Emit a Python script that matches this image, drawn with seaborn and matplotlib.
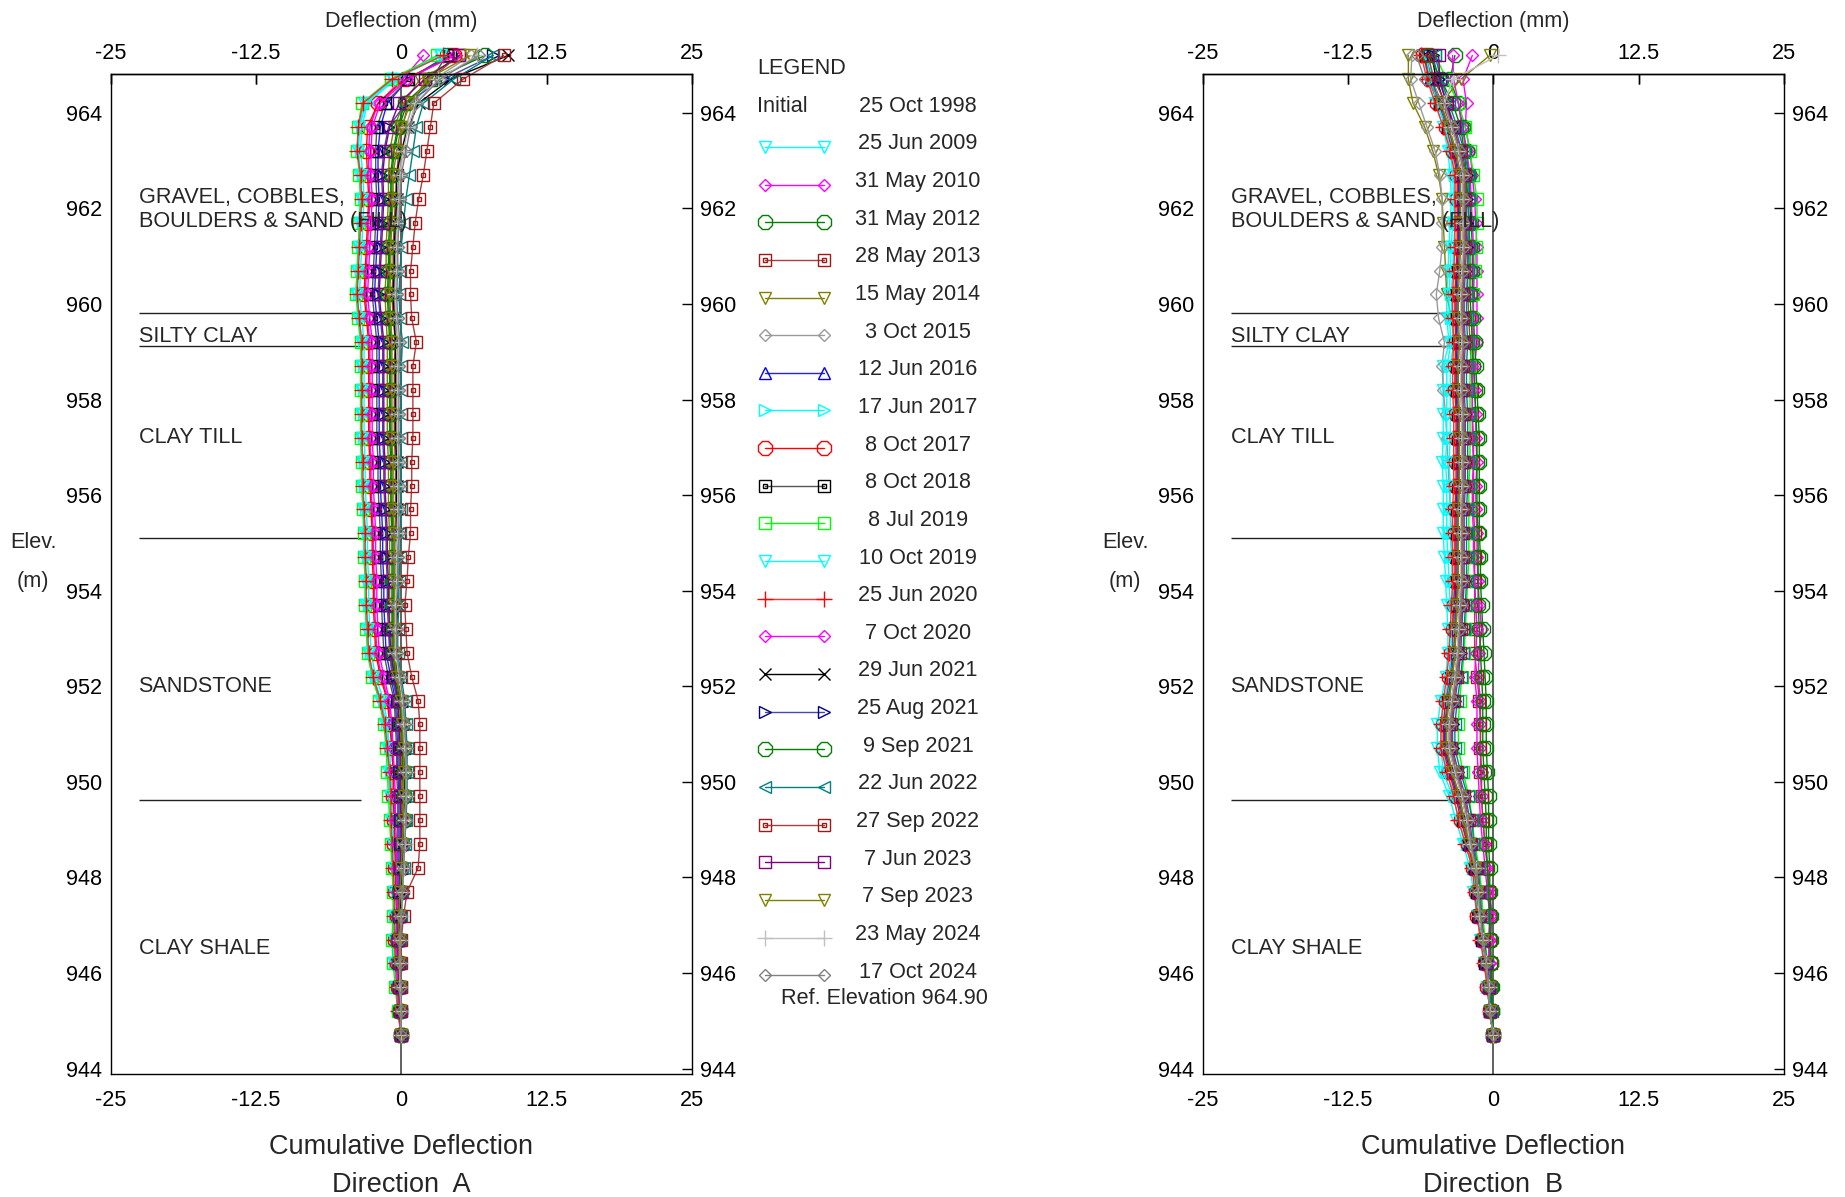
import matplotlib
matplotlib.use('Agg')
import matplotlib.pyplot as plt
import seaborn as sns

# reading elevations (m)
elev = [965.2, 964.7, 964.2, 963.7, 963.2, 962.7, 962.2, 961.7, 961.2, 960.7,
        960.2, 959.7, 959.2, 958.7, 958.2, 957.7, 957.2, 956.7, 956.2, 955.7,
        955.2, 954.7, 954.2, 953.7, 953.2, 952.7, 952.2, 951.7, 951.2, 950.7,
        950.2, 949.7, 949.2, 948.7, 948.2, 947.7, 947.2, 946.7, 946.2, 945.7,
        945.2, 944.7]

dates = ['25 Jun 2009', '31 May 2010', '31 May 2012', '28 May 2013', '15 May 2014', '3 Oct 2015',
         '12 Jun 2016', '17 Jun 2017', '8 Oct 2017', '8 Oct 2018', '8 Jul 2019', '10 Oct 2019',
         '25 Jun 2020', '7 Oct 2020', '29 Jun 2021', '25 Aug 2021', '9 Sep 2021', '22 Jun 2022',
         '27 Sep 2022', '7 Jun 2023', '7 Sep 2023', '23 May 2024', '17 Oct 2024']

# Direction A cumulative deflection (mm)
a_25jun2009 = [3.3, -0.8, -3.2, -3.6, -3.7, -3.6, -3.5, -3.6, -3.7, -3.8, -3.9, -3.7, -3.5, -3.5, -3.5, -3.5, -3.5, -3.4, -3.4, -3.3, -3.2, -3.2, -3.1, -3.1, -3.0, -2.9, -2.5, -1.8, -1.4, -1.2, -1.1, -1.0, -0.9, -0.8, -0.7, -0.6, -0.6, -0.7, -0.6, -0.5, -0.3, 0.0]
a_31may2010 = [1.9, 0.1, -2.0, -2.7, -2.8, -2.8, -2.7, -2.8, -2.9, -3.0, -3.1, -2.9, -2.7, -2.7, -2.7, -2.7, -2.7, -2.6, -2.6, -2.5, -2.4, -2.4, -2.3, -2.3, -2.2, -2.1, -1.7, -1.1, -0.9, -0.8, -0.7, -0.6, -0.6, -0.5, -0.5, -0.4, -0.4, -0.5, -0.4, -0.3, -0.2, 0.0]
a_31may2012 = [3.9, 2.6, 0.3, -0.3, -0.7, -0.9, -0.9, -1.0, -1.1, -1.1, -1.2, -1.1, -1.0, -1.0, -1.0, -1.0, -1.0, -0.9, -0.9, -0.9, -0.8, -0.8, -0.8, -0.8, -0.8, -0.8, -0.6, -0.2, 0.0, 0.1, 0.1, 0.2, 0.2, 0.1, 0.0, -0.1, -0.2, -0.3, -0.2, -0.2, -0.1, 0.0]
a_28may2013 = [5.0, 2.4, 0.6, 0.1, -0.2, -0.4, -0.5, -0.6, -0.7, -0.7, -0.8, -0.7, -0.5, -0.6, -0.6, -0.6, -0.6, -0.5, -0.5, -0.5, -0.5, -0.6, -0.6, -0.7, -0.7, -0.7, -0.4, 0.0, 0.1, 0.2, 0.2, 0.2, 0.2, 0.1, 0.0, 0.0, -0.1, -0.2, -0.2, -0.1, -0.1, 0.0]
a_15may2014 = [5.3, 1.6, 0.2, -0.6, -1.0, -1.1, -1.1, -1.2, -1.3, -1.3, -1.4, -1.3, -1.2, -1.2, -1.2, -1.2, -1.2, -1.1, -1.1, -1.1, -1.0, -1.0, -1.0, -1.0, -1.0, -1.0, -0.8, -0.3, -0.1, 0.0, 0.0, 0.1, 0.1, 0.0, 0.0, -0.1, -0.2, -0.3, -0.2, -0.2, -0.1, 0.0]
a_3oct2015 = [6.0, 2.8, 1.0, 0.4, 0.1, -0.2, -0.3, -0.4, -0.5, -0.5, -0.6, -0.5, -0.3, -0.4, -0.4, -0.4, -0.4, -0.4, -0.4, -0.4, -0.4, -0.5, -0.5, -0.6, -0.6, -0.6, -0.3, 0.1, 0.2, 0.3, 0.3, 0.3, 0.3, 0.2, 0.1, 0.0, -0.1, -0.2, -0.1, -0.1, 0.0, 0.0]
a_12jun2016 = [4.0, 0.6, -1.2, -1.8, -2.0, -2.0, -1.9, -2.0, -2.1, -2.2, -2.3, -2.1, -1.9, -1.9, -1.9, -1.9, -1.9, -1.8, -1.8, -1.7, -1.6, -1.6, -1.5, -1.5, -1.4, -1.3, -0.9, -0.5, -0.4, -0.3, -0.3, -0.2, -0.2, -0.2, -0.2, -0.2, -0.2, -0.3, -0.3, -0.2, -0.1, 0.0]
a_17jun2017 = [3.5, -0.5, -2.9, -3.4, -3.5, -3.3, -3.2, -3.3, -3.4, -3.5, -3.6, -3.4, -3.2, -3.2, -3.2, -3.2, -3.2, -3.1, -3.1, -3.0, -2.9, -2.9, -2.8, -2.8, -2.7, -2.6, -2.2, -1.5, -1.2, -1.0, -0.9, -0.8, -0.7, -0.7, -0.6, -0.5, -0.5, -0.6, -0.5, -0.4, -0.2, 0.0]
a_8oct2017 = [4.5, 0.3, -2.0, -2.9, -3.0, -2.9, -2.8, -2.9, -3.0, -3.1, -3.2, -3.0, -2.8, -2.8, -2.8, -2.8, -2.8, -2.7, -2.7, -2.6, -2.5, -2.5, -2.4, -2.4, -2.3, -2.2, -1.8, -1.2, -1.0, -0.8, -0.7, -0.7, -0.6, -0.6, -0.5, -0.5, -0.4, -0.5, -0.4, -0.3, -0.2, 0.0]
a_8oct2018 = [4.2, 0.6, -1.4, -2.1, -2.2, -2.2, -2.1, -2.2, -2.3, -2.4, -2.5, -2.3, -2.1, -2.1, -2.1, -2.1, -2.1, -2.0, -2.0, -1.9, -1.8, -1.8, -1.7, -1.7, -1.6, -1.5, -1.1, -0.6, -0.5, -0.4, -0.4, -0.3, -0.3, -0.3, -0.3, -0.3, -0.3, -0.4, -0.3, -0.2, -0.1, 0.0]
a_8jul2019 = [3.1, -0.9, -3.4, -3.7, -3.8, -3.6, -3.5, -3.6, -3.7, -3.8, -3.9, -3.7, -3.5, -3.5, -3.5, -3.5, -3.5, -3.4, -3.4, -3.3, -3.2, -3.2, -3.1, -3.1, -3.0, -2.9, -2.5, -1.9, -1.5, -1.3, -1.2, -1.1, -1.0, -0.9, -0.8, -0.7, -0.7, -0.8, -0.7, -0.5, -0.3, 0.0]
a_10oct2019 = [3.4, -0.7, -3.0, -3.6, -3.7, -3.5, -3.4, -3.5, -3.6, -3.7, -3.8, -3.6, -3.4, -3.4, -3.4, -3.4, -3.4, -3.3, -3.3, -3.2, -3.1, -3.1, -3.0, -3.0, -2.9, -2.8, -2.4, -1.7, -1.3, -1.1, -1.0, -0.9, -0.8, -0.7, -0.6, -0.6, -0.5, -0.6, -0.6, -0.4, -0.2, 0.0]
a_25jun2020 = [3.6, -0.8, -3.3, -3.7, -3.8, -3.5, -3.4, -3.5, -3.6, -3.7, -3.8, -3.6, -3.4, -3.4, -3.4, -3.4, -3.4, -3.3, -3.3, -3.2, -3.1, -3.1, -3.0, -3.0, -2.9, -2.8, -2.4, -1.8, -1.4, -1.2, -1.0, -0.9, -0.9, -0.8, -0.7, -0.6, -0.6, -0.6, -0.5, -0.4, -0.3, 0.0]
a_7oct2020 = [4.6, 0.5, -1.8, -2.5, -2.6, -2.6, -2.5, -2.6, -2.7, -2.8, -2.9, -2.7, -2.5, -2.5, -2.5, -2.5, -2.5, -2.4, -2.4, -2.3, -2.2, -2.2, -2.1, -2.1, -2.0, -1.9, -1.5, -1.0, -0.8, -0.7, -0.6, -0.5, -0.5, -0.4, -0.4, -0.4, -0.3, -0.4, -0.4, -0.3, -0.2, 0.0]
a_29jun2021 = [9.2, 4.2, 1.5, 0.6, 0.0, -0.4, -0.4, -0.5, -0.6, -0.6, -0.7, -0.6, -0.5, -0.5, -0.5, -0.5, -0.5, -0.4, -0.4, -0.4, -0.3, -0.3, -0.3, -0.3, -0.4, -0.5, -0.3, 0.1, 0.2, 0.3, 0.3, 0.3, 0.3, 0.2, 0.1, 0.0, -0.1, -0.2, -0.2, -0.1, -0.1, 0.0]
a_25aug2021 = [7.9, 3.6, 0.4, -1.1, -1.5, -1.7, -1.6, -1.7, -1.8, -1.9, -2.0, -1.8, -1.6, -1.6, -1.6, -1.6, -1.6, -1.5, -1.5, -1.4, -1.3, -1.3, -1.2, -1.2, -1.1, -1.0, -0.7, -0.4, -0.3, -0.2, -0.2, -0.1, -0.1, -0.1, -0.1, -0.2, -0.2, -0.3, -0.2, -0.2, -0.1, 0.0]
a_9sep2021 = [7.2, 2.8, 0.5, -0.2, -0.6, -0.8, -0.8, -0.9, -1.0, -1.0, -1.1, -1.0, -0.9, -0.9, -0.9, -0.9, -0.9, -0.8, -0.8, -0.8, -0.7, -0.7, -0.7, -0.7, -0.7, -0.7, -0.5, -0.1, 0.1, 0.2, 0.2, 0.2, 0.2, 0.1, 0.0, -0.1, -0.2, -0.3, -0.2, -0.2, -0.1, 0.0]
a_22jun2022 = [7.9, 4.5, 1.9, 1.3, 1.0, 0.7, 0.4, 0.2, 0.0, -0.1, -0.2, -0.1, 0.1, 0.0, 0.0, 0.0, 0.0, 0.0, 0.0, 0.0, -0.1, -0.1, -0.2, -0.2, -0.3, -0.3, 0.0, 0.3, 0.4, 0.5, 0.5, 0.5, 0.4, 0.3, 0.2, 0.1, 0.0, -0.1, -0.1, 0.0, 0.0, 0.0]
a_27sep2022 = [8.8, 5.3, 2.8, 2.5, 2.2, 1.9, 1.5, 1.2, 1.0, 0.8, 0.8, 0.9, 1.3, 1.0, 1.0, 1.0, 1.0, 0.9, 0.9, 0.8, 0.8, 0.6, 0.5, 0.3, 0.4, 0.5, 0.9, 1.45, 1.6, 1.6, 1.6, 1.6, 1.6, 1.6, 1.45, 0.5, 0.2, 0.0, 0.0, 0.0, 0.0, 0.0]
a_7jun2023 = [5.0, 2.0, -0.2, -1.0, -1.4, -1.6, -1.5, -1.6, -1.7, -1.8, -1.9, -1.7, -1.5, -1.5, -1.5, -1.5, -1.5, -1.4, -1.4, -1.3, -1.2, -1.2, -1.1, -1.1, -1.0, -0.9, -0.6, -0.3, -0.2, -0.1, -0.1, -0.1, 0.0, 0.0, -0.1, -0.1, -0.2, -0.3, -0.2, -0.2, -0.1, 0.0]
a_7sep2023 = [5.9, 2.2, 0.8, 0.0, -0.4, -0.7, -0.7, -0.8, -0.9, -0.9, -1.0, -0.9, -0.8, -0.8, -0.8, -0.8, -0.8, -0.7, -0.7, -0.7, -0.6, -0.6, -0.6, -0.6, -0.6, -0.6, -0.4, 0.0, 0.1, 0.2, 0.2, 0.2, 0.2, 0.1, 0.0, -0.1, -0.2, -0.2, -0.2, -0.1, -0.1, 0.0]
a_23may2024 = [6.5, 3.2, 1.2, 0.6, 0.2, -0.1, -0.2, -0.3, -0.4, -0.4, -0.5, -0.4, -0.2, -0.3, -0.3, -0.3, -0.3, -0.3, -0.3, -0.3, -0.3, -0.4, -0.4, -0.5, -0.5, -0.5, -0.2, 0.1, 0.2, 0.3, 0.4, 0.4, 0.3, 0.3, 0.2, 0.1, 0.0, -0.1, -0.1, -0.1, 0.0, 0.0]
a_17oct2024 = [6.7, 3.3, 1.3, 0.8, 0.4, 0.0, -0.1, -0.2, -0.3, -0.3, -0.4, -0.3, -0.1, -0.2, -0.2, -0.2, -0.2, -0.2, -0.2, -0.2, -0.2, -0.3, -0.3, -0.4, -0.4, -0.4, -0.1, 0.2, 0.3, 0.4, 0.4, 0.4, 0.4, 0.3, 0.2, 0.1, 0.0, -0.1, -0.1, 0.0, 0.0, 0.0]

# Direction B cumulative deflection (mm)
b_25jun2009 = [-6.0, -5.6, -5.0, -4.3, -3.9, -3.7, -3.6, -3.7, -3.8, -3.9, -4.0, -4.0, -3.8, -4.3, -4.3, -4.3, -4.3, -4.4, -4.3, -4.3, -4.3, -4.2, -4.1, -4.0, -3.9, -3.9, -4.1, -4.5, -4.8, -4.8, -4.6, -3.8, -3.2, -2.6, -2.0, -1.7, -1.4, -1.1, -0.8, -0.5, -0.3, 0.0]
b_31may2010 = [-1.8, -2.6, -2.3, -2.4, -2.0, -1.8, -1.6, -1.5, -1.4, -1.4, -1.4, -1.4, -1.4, -1.6, -1.6, -1.5, -1.5, -1.4, -1.5, -1.5, -1.4, -1.4, -1.3, -1.2, -1.0, -1.2, -1.3, -1.1, -1.1, -1.1, -1.0, -1.0, -0.9, -0.7, -0.5, -0.3, -0.1, -0.3, -0.3, -0.2, -0.2, 0.0]
b_31may2012 = [-3.3, -3.7, -3.0, -2.6, -2.3, -2.1, -2.0, -1.9, -1.8, -1.8, -1.8, -1.7, -1.6, -1.5, -1.4, -1.3, -1.2, -1.2, -1.2, -1.2, -1.2, -1.1, -1.1, -1.0, -0.9, -0.8, -0.7, -0.6, -0.6, -0.6, -0.5, -0.4, -0.4, -0.4, -0.3, -0.3, -0.2, -0.2, -0.2, -0.1, -0.1, 0.0]
b_28may2013 = [-5.9, -5.3, -4.4, -3.6, -3.0, -2.6, -2.4, -2.3, -2.2, -2.2, -2.2, -2.1, -2.0, -1.9, -1.8, -1.8, -1.7, -1.7, -1.7, -1.7, -1.6, -1.6, -1.6, -1.6, -1.6, -1.6, -1.4, -1.2, -1.1, -1.1, -1.1, -1.0, -0.9, -0.7, -0.5, -0.4, -0.3, -0.3, -0.2, -0.2, -0.1, 0.0]
b_15may2014 = [-7.3, -7.3, -6.9, -5.9, -5.2, -4.7, -4.4, -4.3, -4.2, -4.1, -4.0, -3.6, -3.3, -3.2, -3.1, -3.0, -3.0, -3.0, -2.9, -3.0, -3.0, -3.0, -3.0, -3.1, -3.2, -3.3, -3.5, -3.9, -4.1, -4.1, -3.6, -2.9, -2.5, -2.1, -1.6, -1.4, -1.2, -0.9, -0.6, -0.4, -0.3, 0.0]
b_3oct2015 = [-7.0, -7.1, -6.4, -5.7, -5.0, -4.6, -4.4, -4.4, -4.4, -4.6, -4.9, -4.7, -4.2, -4.4, -4.3, -4.1, -4.0, -3.9, -3.8, -3.7, -3.6, -3.5, -3.5, -3.5, -3.5, -3.6, -3.7, -4.0, -4.2, -4.2, -3.7, -3.0, -2.5, -2.1, -1.6, -1.4, -1.2, -0.9, -0.6, -0.4, -0.3, 0.0]
b_12jun2016 = [-5.9, -5.4, -4.7, -4.0, -3.4, -3.0, -3.0, -3.0, -3.0, -3.1, -3.2, -3.2, -3.1, -3.2, -3.2, -3.1, -3.1, -3.1, -3.1, -3.2, -3.2, -3.2, -3.2, -3.3, -3.4, -3.5, -3.7, -4.0, -4.2, -4.2, -3.7, -3.1, -2.7, -2.2, -1.7, -1.5, -1.3, -1.0, -0.7, -0.4, -0.3, 0.0]
b_17jun2017 = [-5.6, -5.2, -4.6, -3.9, -3.5, -3.3, -3.2, -3.3, -3.4, -3.5, -3.6, -3.6, -3.4, -3.7, -3.7, -3.7, -3.7, -3.8, -3.7, -3.7, -3.7, -3.6, -3.5, -3.4, -3.4, -3.4, -3.6, -4.0, -4.3, -4.3, -4.0, -3.3, -2.7, -2.3, -1.7, -1.5, -1.3, -1.0, -0.7, -0.5, -0.3, 0.0]
b_8oct2017 = [-6.0, -5.5, -4.8, -4.1, -3.5, -3.1, -3.1, -3.1, -3.1, -3.2, -3.3, -3.3, -3.2, -3.3, -3.3, -3.2, -3.2, -3.2, -3.2, -3.3, -3.3, -3.3, -3.3, -3.4, -3.5, -3.6, -3.8, -4.1, -4.3, -4.3, -3.8, -3.2, -2.8, -2.2, -1.7, -1.5, -1.4, -1.0, -0.7, -0.5, -0.3, 0.0]
b_8oct2018 = [-5.8, -5.3, -4.6, -3.9, -3.3, -2.9, -2.9, -2.9, -2.9, -3.0, -3.1, -3.1, -3.0, -3.1, -3.1, -3.0, -3.0, -3.0, -3.0, -3.1, -3.1, -3.1, -3.1, -3.2, -3.3, -3.4, -3.6, -3.9, -4.1, -4.1, -3.6, -3.0, -2.6, -2.1, -1.6, -1.4, -1.3, -1.0, -0.7, -0.4, -0.3, 0.0]
b_8jul2019 = [-5.0, -4.0, -3.0, -2.4, -2.0, -1.7, -1.4, -1.4, -1.5, -1.6, -1.7, -1.8, -1.8, -2.0, -2.0, -2.0, -2.0, -2.0, -2.1, -2.1, -2.1, -2.1, -2.2, -2.3, -2.4, -2.5, -2.7, -2.9, -3.0, -3.0, -2.6, -2.1, -1.8, -1.6, -1.2, -1.0, -0.9, -0.7, -0.5, -0.3, -0.2, 0.0]
b_10oct2019 = [-5.8, -5.4, -4.8, -4.1, -3.7, -3.5, -3.4, -3.5, -3.6, -3.7, -3.8, -3.8, -3.6, -4.0, -4.0, -4.0, -4.0, -4.1, -4.0, -4.0, -4.0, -3.9, -3.8, -3.7, -3.6, -3.6, -3.8, -4.2, -4.5, -4.5, -4.3, -3.5, -2.9, -2.4, -1.8, -1.5, -1.3, -1.0, -0.7, -0.5, -0.3, 0.0]
b_25jun2020 = [-6.2, -5.7, -5.0, -4.3, -3.7, -3.3, -3.3, -3.3, -3.3, -3.4, -3.5, -3.5, -3.4, -3.5, -3.5, -3.4, -3.4, -3.4, -3.4, -3.5, -3.5, -3.5, -3.5, -3.6, -3.7, -3.8, -4.0, -4.3, -4.5, -4.5, -4.0, -3.4, -3.0, -2.4, -1.8, -1.6, -1.4, -1.1, -0.8, -0.5, -0.3, 0.0]
b_7oct2020 = [-3.5, -3.4, -3.0, -2.7, -2.3, -2.0, -1.9, -1.8, -1.7, -1.7, -1.7, -1.7, -1.7, -1.8, -1.8, -1.8, -1.8, -1.7, -1.8, -1.8, -1.7, -1.7, -1.6, -1.5, -1.4, -1.5, -1.6, -1.4, -1.4, -1.4, -1.3, -1.2, -1.1, -0.9, -0.7, -0.5, -0.3, -0.4, -0.4, -0.3, -0.2, 0.0]
b_29jun2021 = [-5.3, -4.9, -4.2, -3.5, -2.9, -2.5, -2.5, -2.5, -2.5, -2.6, -2.7, -2.7, -2.6, -2.7, -2.7, -2.6, -2.6, -2.6, -2.6, -2.7, -2.7, -2.7, -2.7, -2.8, -2.9, -3.0, -3.2, -3.5, -3.7, -3.7, -3.2, -2.6, -2.2, -1.9, -1.5, -1.3, -1.1, -0.9, -0.6, -0.4, -0.3, 0.0]
b_25aug2021 = [-5.2, -4.7, -4.0, -3.3, -2.7, -2.3, -2.3, -2.3, -2.3, -2.4, -2.5, -2.5, -2.4, -2.5, -2.5, -2.4, -2.4, -2.4, -2.4, -2.5, -2.5, -2.5, -2.5, -2.6, -2.7, -2.8, -3.0, -3.3, -3.5, -3.5, -3.0, -2.4, -2.0, -1.8, -1.4, -1.2, -1.1, -0.8, -0.6, -0.4, -0.2, 0.0]
b_9sep2021 = [-5.5, -4.5, -3.5, -2.8, -2.5, -2.3, -2.2, -2.1, -2.0, -2.0, -2.0, -1.9, -1.8, -1.7, -1.6, -1.5, -1.4, -1.4, -1.4, -1.4, -1.3, -1.3, -1.3, -1.3, -1.2, -1.1, -1.0, -0.9, -0.9, -0.9, -0.8, -0.7, -0.6, -0.6, -0.5, -0.4, -0.3, -0.3, -0.2, -0.2, -0.1, 0.0]
b_22jun2022 = [-5.0, -4.5, -3.8, -3.1, -2.5, -2.1, -2.1, -2.1, -2.1, -2.2, -2.3, -2.3, -2.2, -2.3, -2.3, -2.2, -2.2, -2.2, -2.2, -2.3, -2.3, -2.3, -2.3, -2.4, -2.5, -2.6, -2.8, -3.1, -3.3, -3.3, -2.8, -2.2, -1.8, -1.7, -1.3, -1.1, -1.0, -0.8, -0.5, -0.3, -0.2, 0.0]
b_27sep2022 = [-5.6, -5.1, -4.1, -3.4, -2.8, -2.4, -2.4, -2.4, -2.4, -2.5, -2.6, -2.6, -2.5, -2.6, -2.6, -2.5, -2.5, -2.5, -2.5, -2.6, -2.6, -2.6, -2.6, -2.7, -2.8, -2.9, -3.1, -3.4, -3.6, -3.6, -3.1, -2.5, -2.1, -1.9, -1.4, -1.2, -1.1, -0.8, -0.6, -0.4, -0.3, 0.0]
b_7jun2023 = [-4.7, -4.6, -4.0, -3.4, -3.0, -2.6, -2.6, -2.6, -2.6, -2.7, -2.8, -2.8, -2.7, -2.8, -2.8, -2.7, -2.7, -2.7, -2.7, -2.8, -2.8, -2.8, -2.8, -2.9, -3.0, -3.1, -3.3, -3.6, -3.8, -3.8, -3.3, -2.7, -2.3, -2.0, -1.5, -1.3, -1.2, -0.9, -0.6, -0.4, -0.3, 0.0]
b_7sep2023 = [-0.3, -2.8, -4.5, -3.8, -3.2, -2.8, -2.8, -2.8, -2.8, -2.9, -3.0, -3.0, -2.9, -3.0, -3.0, -2.9, -2.9, -2.9, -2.9, -3.0, -3.0, -3.0, -3.0, -3.1, -3.2, -3.3, -3.5, -3.8, -4.0, -4.0, -3.5, -2.9, -2.5, -2.1, -1.6, -1.4, -1.2, -0.9, -0.6, -0.4, -0.3, 0.0]
b_23may2024 = [0.4, -3.5, -4.2, -3.6, -3.0, -2.6, -2.6, -2.6, -2.6, -2.7, -2.8, -2.8, -2.7, -2.8, -2.8, -2.7, -2.7, -2.7, -2.7, -2.8, -2.8, -2.8, -2.8, -2.9, -3.0, -3.1, -3.3, -3.6, -3.8, -3.8, -3.3, -2.7, -2.3, -2.0, -1.5, -1.3, -1.2, -0.9, -0.6, -0.4, -0.3, 0.0]
b_17oct2024 = [-6.6, -5.9, -4.2, -3.5, -2.9, -2.5, -2.5, -2.5, -2.5, -2.6, -2.7, -2.7, -2.6, -2.7, -2.7, -2.6, -2.6, -2.6, -2.6, -2.7, -2.7, -2.7, -2.7, -2.8, -2.9, -3.0, -3.2, -3.5, -3.7, -3.7, -3.2, -2.6, -2.2, -1.9, -1.5, -1.3, -1.1, -0.9, -0.6, -0.4, -0.3, 0.0]

defl_a = [a_25jun2009, a_31may2010, a_31may2012, a_28may2013, a_15may2014, a_3oct2015,
          a_12jun2016, a_17jun2017, a_8oct2017, a_8oct2018, a_8jul2019, a_10oct2019,
          a_25jun2020, a_7oct2020, a_29jun2021, a_25aug2021, a_9sep2021, a_22jun2022,
          a_27sep2022, a_7jun2023, a_7sep2023, a_23may2024, a_17oct2024]
defl_b = [b_25jun2009, b_31may2010, b_31may2012, b_28may2013, b_15may2014, b_3oct2015,
          b_12jun2016, b_17jun2017, b_8oct2017, b_8oct2018, b_8jul2019, b_10oct2019,
          b_25jun2020, b_7oct2020, b_29jun2021, b_25aug2021, b_9sep2021, b_22jun2022,
          b_27sep2022, b_7jun2023, b_7sep2023, b_23may2024, b_17oct2024]

# stratigraphy
layer_names = ['GRAVEL, COBBLES,\nBOULDERS & SAND (FILL)', 'SILTY CLAY', 'CLAY TILL', 'SANDSTONE', 'CLAY SHALE']
layer_label_elev = [961.98, 959.32, 957.2, 952.0, 946.51]
layer_bounds = [959.81, 959.12, 955.11, 949.61]

# styles
marker_colors = ['#00ffff', '#ff00ff', '#008000', '#a01818', '#808000', '#999999', '#0000ff', '#00ffff',
                 '#ff0000', '#000000', '#00ff00', '#00ffff', '#ff0000', '#ff00ff', '#000000', '#000080',
                 '#008000', '#008080', '#a01818', '#800080', '#808000', '#c0c0c0', '#808080']
line_colors = ['#00ffff', '#ff00ff', '#008000', '#a84040', '#808000', '#999999', '#2020ff', '#00ffff',
               '#ff0000', '#555555', '#00ff00', '#00ffff', '#ff3030', '#ff00ff', '#000000', '#4848a8',
               '#008000', '#008080', '#a84040', '#800080', '#808000', '#c0c0c0', '#808080']
markers = ['v', 'D', '8', 's', 'v', 'D', '^', '>', '8', 's', 's', 'v', '+', 'D', 'x', '>', '8', '<',
           's', 's', 'v', '+', 'D']
msize = {'v': 9, 'D': 6.5, '8': 11, 's': 8, '^': 9, '>': 9, '<': 9, '+': 11, 'x': 9}
inner_sq = ['28 May 2013', '8 Oct 2018', '27 Sep 2022']
xticks = [-25, -12.5, 0, 12.5, 25]
xticklabels = ['-25', '-12.5', '0', '12.5', '25']

sns.set_style('white')
plt.rcParams['font.family'] = ['Liberation Sans', 'DejaVu Sans']
FS = 15.6

W, H = 1845, 1197
fig = plt.figure(figsize=(W / 100, H / 100), dpi=100)
ax_a = fig.add_axes([110.6 / W, 1 - 1074.3 / H, 581.3 / W, 1000.2 / H])
ax_b = fig.add_axes([1202.6 / W, 1 - 1074.3 / H, 581.3 / W, 1000.2 / H])


def draw_panel(ax, series):
    ax.axvline(0, color='#555555', lw=1.3, zorder=0.5)
    ax.hlines(layer_bounds, -22.6, -3.5, color='#222222', lw=1, zorder=0.6)
    for name, ye in zip(layer_names, layer_label_elev):
        ax.text(-22.6, ye, name, fontsize=FS, ha='left', va='center', linespacing=1.2, zorder=5)
    for k, vals in enumerate(series):
        m = markers[k]
        sns.lineplot(x=vals, y=elev, ax=ax, sort=False, estimator=None, errorbar=None,
                     color=line_colors[k], lw=1.0, marker=m, markersize=msize[m],
                     markerfacecolor='none', markeredgecolor=marker_colors[k],
                     markeredgewidth=1.0, clip_on=False, legend=False)
        if dates[k] in inner_sq:
            ax.plot(vals, elev, ls='none', marker='s', ms=3.5, mfc='none',
                    mec=marker_colors[k], mew=1.0, clip_on=False)
    ax.set_xlim(-25, 25)
    ax.set_ylim(943.88, 964.81)
    ax.set_xticks(xticks)
    ax.set_xticklabels(xticklabels)
    ax.set_yticks(range(944, 965, 2))
    ax.set_xlabel('')
    ax.set_ylabel('')
    ax.tick_params(axis='both', direction='in', length=7, width=1, labelsize=FS,
                   top=True, right=True, labeltop=False, labelright=True, colors='black')
    ax.tick_params(axis='x', pad=11.5)
    ax.tick_params(axis='y', pad=6)
    # top tick labels on their own axis so the pad can differ from the bottom
    top = ax.secondary_xaxis('top')
    top.set_xticks(xticks)
    top.set_xticklabels(xticklabels)
    top.tick_params(direction='in', length=7, width=1, labelsize=FS, pad=7.3, colors='black')
    for s in ax.spines.values():
        s.set_color('black')
        s.set_linewidth(1)
    top.spines['top'].set_color('black')
    top.spines['top'].set_linewidth(1)


draw_panel(ax_a, defl_a)
draw_panel(ax_b, defl_b)

# free text and legend (pixel coordinates)
ov = fig.add_axes([0, 0, 1, 1], zorder=5)
ov.set_xlim(0, W)
ov.set_ylim(H, 0)
ov.axis('off')

for cx, d in [(401, 'A'), (1493, 'B')]:
    ov.text(cx, 22, 'Deflection (mm)', fontsize=FS, ha='center', va='center')
    ov.text(cx, 1147, 'Cumulative Deflection', fontsize=19.5, ha='center', va='center')
    ov.text(cx, 1185, 'Direction  ' + d, fontsize=19.5, ha='center', va='center')
for ex in [33, 1125]:
    ov.text(ex, 542, 'Elev.', fontsize=FS, ha='center', va='center')
    ov.text(ex, 581, '(m)', fontsize=FS, ha='center', va='center')

ov.text(757, 68, 'LEGEND', fontsize=FS, ha='left', va='center')
ov.text(757, 107, 'Initial', fontsize=FS, ha='left', va='center')
ov.text(918, 107, '25 Oct 1998', fontsize=FS, ha='center', va='center')
for k, d in enumerate(dates):
    yy = 142.4 + 37.65 * k
    m = markers[k]
    ov.plot([765, 824], [yy + 4.5, yy + 4.5], color=line_colors[k], lw=1.0, marker=m, ms=msize[m],
            mfc='none', mec=marker_colors[k], mew=1.0)
    if d in inner_sq:
        ov.plot([765, 824], [yy + 4.5, yy + 4.5], ls='none', marker='s', ms=3.5, mfc='none',
                mec=marker_colors[k], mew=1.0)
    ov.text(918, yy + 1.5, d, fontsize=FS, ha='center', va='center')
ov.text(884, 998.5, 'Ref. Elevation 964.90', fontsize=FS, ha='center', va='center')

fig.savefig('out.png', dpi=100)
